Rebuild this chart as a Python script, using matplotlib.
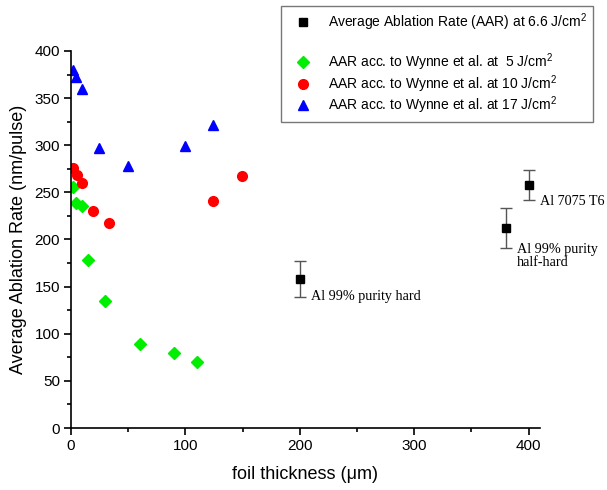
import matplotlib
matplotlib.use("Agg")
import matplotlib.pyplot as plt
from matplotlib.lines import Line2D

plt.rcParams['font.family'] = ['Liberation Sans', 'DejaVu Sans']
plt.rcParams['mathtext.fontset'] = 'custom'
plt.rcParams['mathtext.rm'] = 'Liberation Sans'
plt.rcParams['mathtext.it'] = 'Liberation Sans:italic'

# Data
aar_x = [200, 380.5, 400]
aar_y = [158.5, 212, 257.5]
aar_err = [19, 21.5, 16]
aar_labels = ["Al 99% purity hard", "Al 99% purity\nhalf-hard", "Al 7075 T6"]

w5_x = [2, 4.5, 9.5, 15, 30, 60, 90, 110]
w5_y = [256, 239, 236, 178.5, 134.5, 89, 80, 70.5]

w10_x = [2, 5, 10, 19.5, 33, 124.5, 149.5]
w10_y = [276, 268, 260, 230.5, 217, 241, 267.5]

w17_x = [2, 4.5, 9.5, 24.5, 50, 99.5, 124.5]
w17_y = [380, 372.5, 360, 297, 278, 299, 321]

fig = plt.figure(figsize=(6.07, 4.9), dpi=100)
ax = fig.add_axes([71/607, 62/490, (540-71)/607, (428-51)/490])

ax.errorbar(aar_x, aar_y, yerr=aar_err, fmt='s', color='black', markersize=6,
            ecolor='#555555', elinewidth=1, capsize=4, capthick=1, zorder=3)
h5, = ax.plot(w5_x, w5_y, 'D', color='#00ee00', markersize=6, linestyle='none')
h10, = ax.plot(w10_x, w10_y, 'o', color='#ff0000', markersize=7, linestyle='none')
h17, = ax.plot(w17_x, w17_y, '^', color='#0000ff', markersize=7.5, linestyle='none')

# annotations
ann_pos = [(210, 139.3), (389.8, 182.3), (409.6, 240)]
for (tx, ty), lab in zip(ann_pos, aar_labels):
    ax.text(tx, ty, lab, family='Liberation Serif', fontsize=10.2, va='center',
            ha='left', linespacing=1.05, clip_on=False)

ax.set_xlim(0, 410)
ax.set_ylim(0, 400)
ax.set_xticks([0, 100, 200, 300, 400])
ax.set_xticks([50, 150, 250, 350], minor=True)
ax.set_yticks(range(0, 401, 50))
ax.set_yticks(range(25, 400, 50), minor=True)
ax.tick_params(axis='both', which='major', labelsize=11, length=5, width=1.2, pad=3)
ax.tick_params(axis='both', which='minor', length=3, width=1.2)
for s in ['top', 'right']:
    ax.spines[s].set_visible(False)
for s in ['left', 'bottom']:
    ax.spines[s].set_linewidth(1.2)

ax.set_xlabel("foil thickness (μm)", fontsize=13, labelpad=9)
ax.set_ylabel("Average Ablation Rate (nm/pulse)", fontsize=13, labelpad=5)

blank = Line2D([], [], linestyle='none', marker=None)
h_sq = Line2D([], [], marker='s', color='black', linestyle='none', markersize=6)
handles = [h_sq, blank, h5, h10, h17]
labels = ["Average Ablation Rate (AAR) at 6.6 J/cm$^2$", "x$^2$",
          "AAR acc. to Wynne et al. at  5 J/cm$^2$",
          "AAR acc. to Wynne et al. at 10 J/cm$^2$",
          "AAR acc. to Wynne et al. at 17 J/cm$^2$"]
leg = ax.legend(handles, labels, loc='upper left', bbox_to_anchor=(281/607, 1 - 5.7/490),
                bbox_transform=fig.transFigure, fontsize=10, frameon=True, fancybox=False,
                edgecolor='#555555', handletextpad=0.62, handlelength=2.36, borderpad=0.4,
                borderaxespad=0, labelspacing=0.0)
leg.get_texts()[1].set_color('none')
leg.get_frame().set_linewidth(1)

fig.savefig("out.png", dpi=100)
